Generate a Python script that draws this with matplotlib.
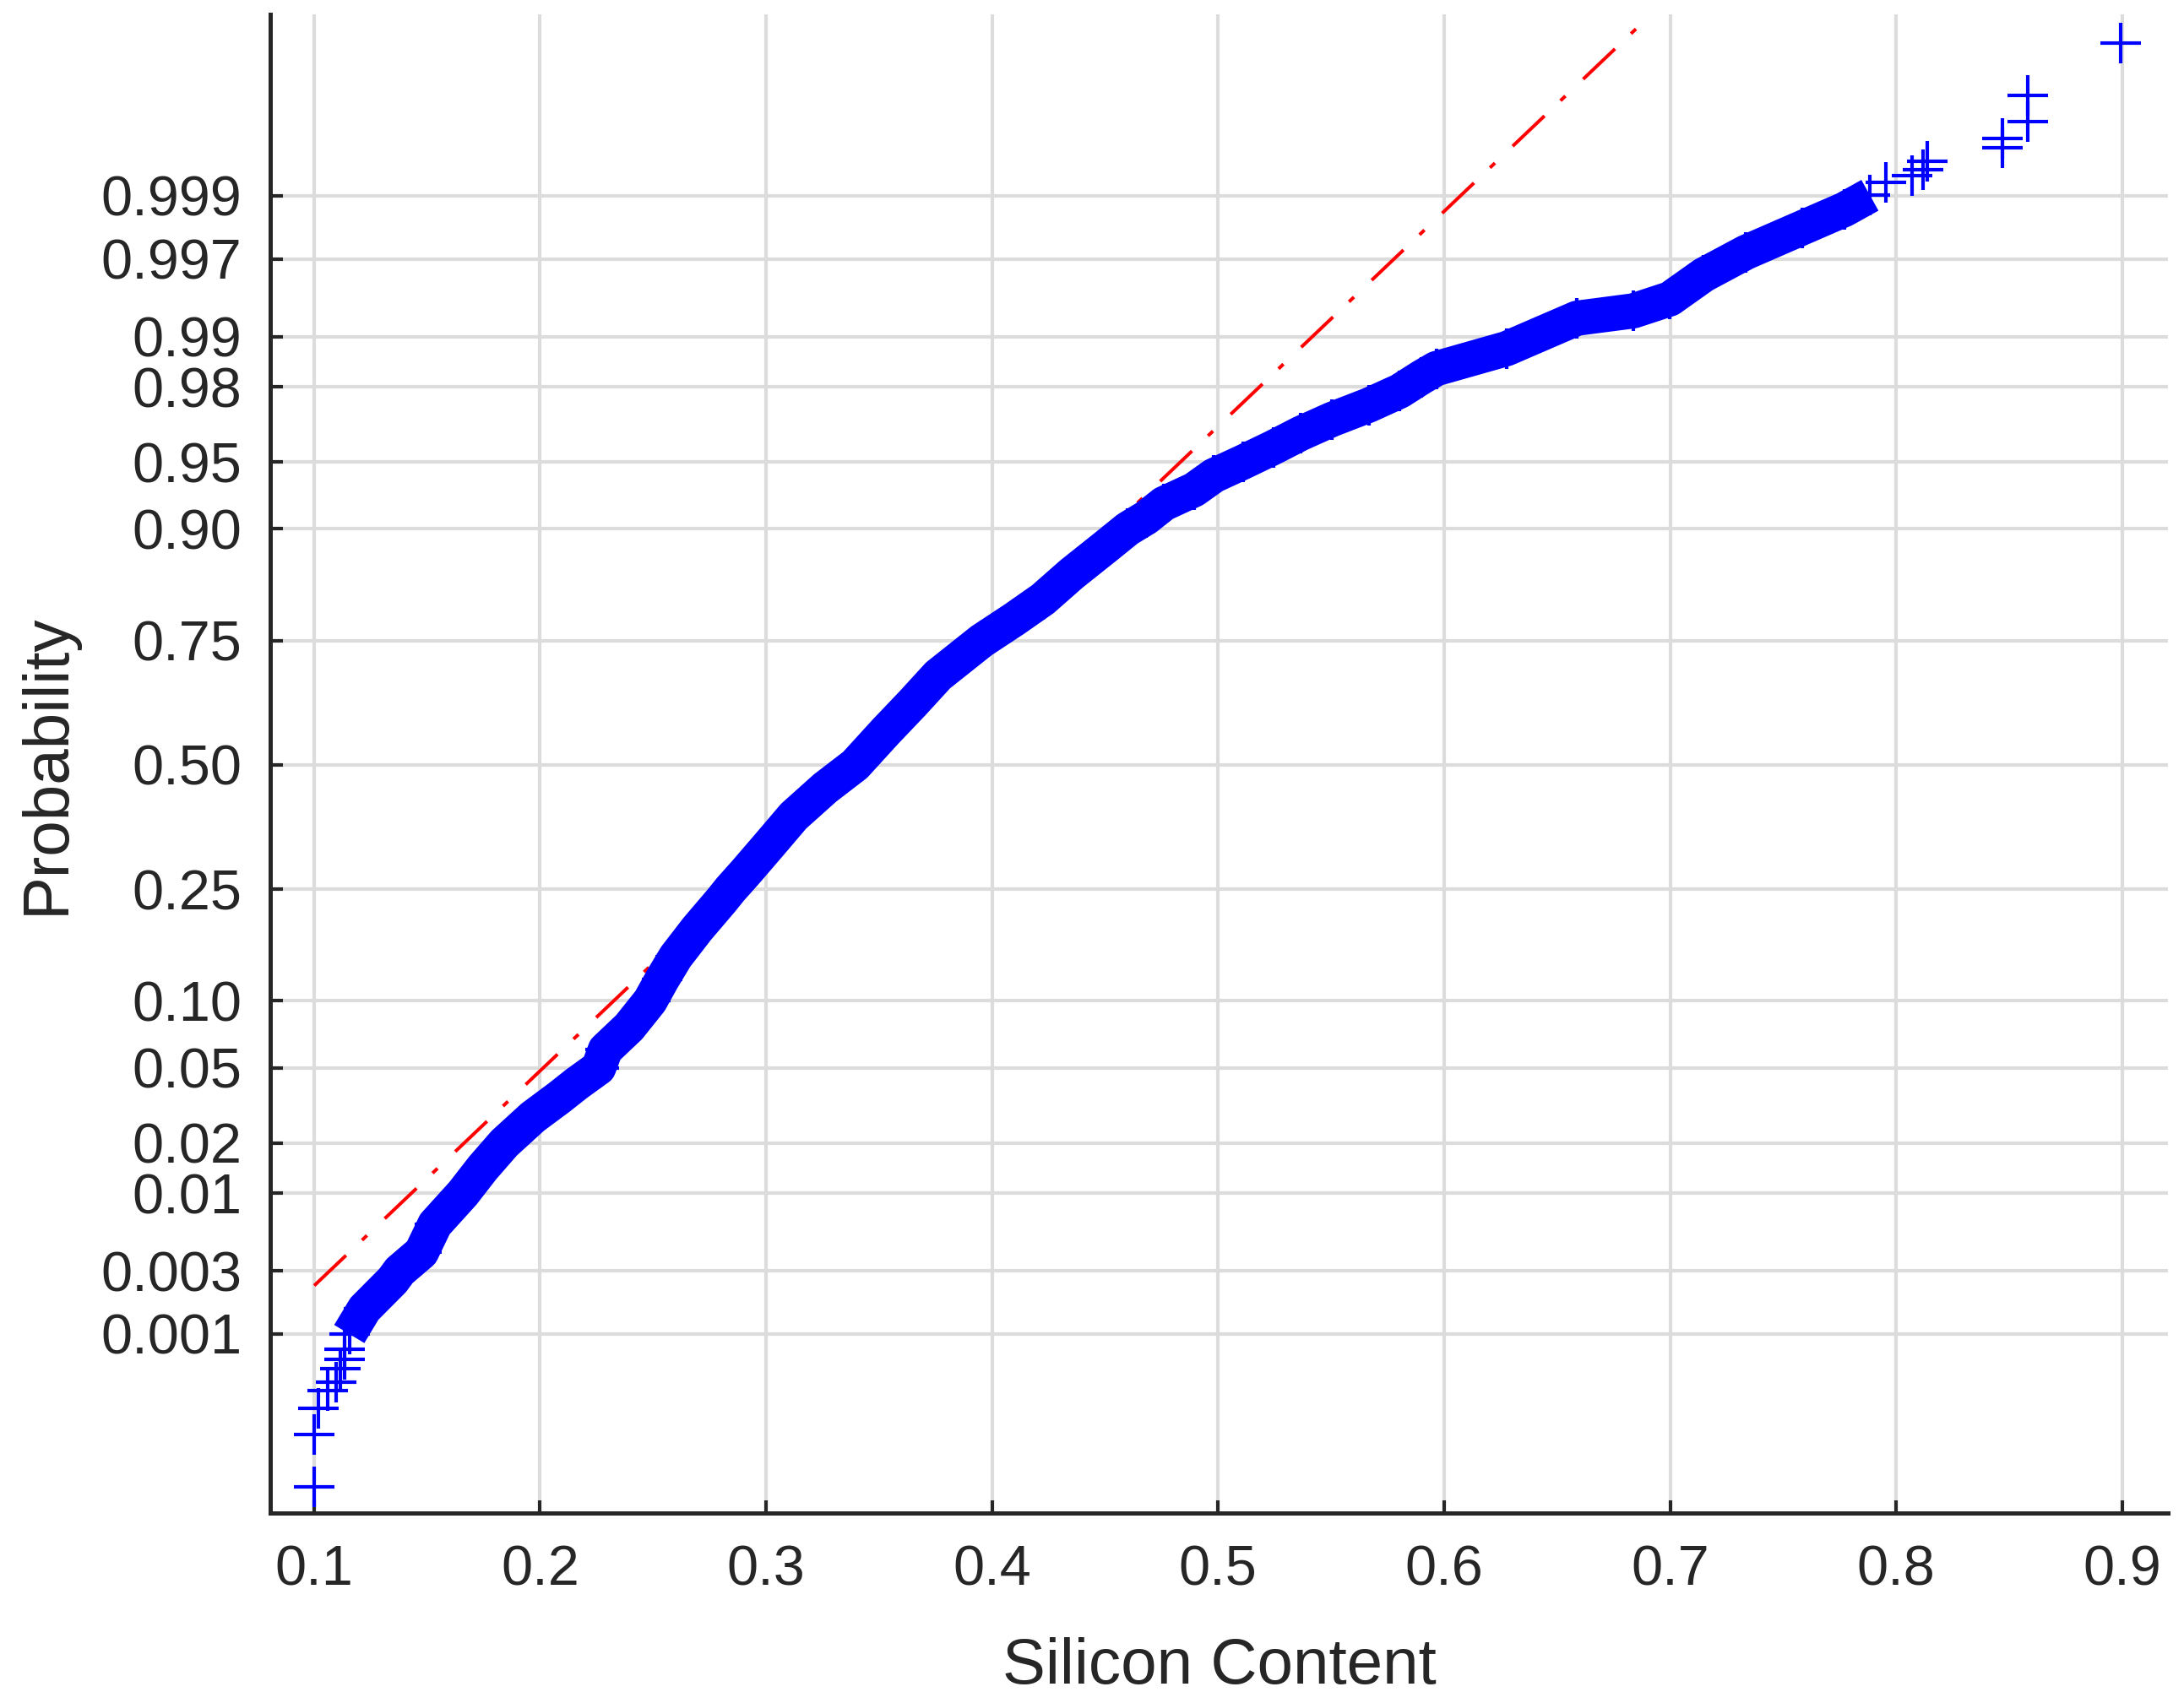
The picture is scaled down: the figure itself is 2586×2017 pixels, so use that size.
"""
Normal probability plot of silicon content (MATLAB normplot look-alike).
"""

import numpy as np
import matplotlib
matplotlib.use('Agg')
import matplotlib.pyplot as plt
from statistics import NormalDist

# ============================================================================
# DATA
# ============================================================================

# sparse lowest observations: silicon content and plotting probability
low_tail_x = [0.1001, 0.1001, 0.1020, 0.1059, 0.1098, 0.1117, 0.1136, 0.1136]
low_tail_p = [4.4e-5, 1.38e-4, 2.4e-4, 3.4e-4, 4.0e-4, 5.2e-4, 6.2e-4, 7.6e-4]

# dense body of the sample (centre of the band of markers)
body_x = [0.1156, 0.1223, 0.1348, 0.1379, 0.1475, 0.1535, 0.1659, 0.1746,
          0.1842, 0.1968, 0.2084, 0.2163, 0.2259, 0.2289, 0.2394, 0.2487,
          0.2540, 0.2600, 0.2696, 0.2802, 0.2843, 0.2909, 0.3016, 0.3122,
          0.3261, 0.3394, 0.3528, 0.3647, 0.3761, 0.3954, 0.4099, 0.4225,
          0.4351, 0.4507, 0.4600, 0.4681, 0.4760, 0.4894, 0.4981, 0.5111,
          0.5244, 0.5366, 0.5504, 0.5666, 0.5803, 0.5901, 0.5965, 0.6276,
          0.6588, 0.6837, 0.6999, 0.7148, 0.7335, 0.7584, 0.7771, 0.7884]
body_p = [0.0010, 0.00157, 0.00256, 0.0030, 0.00406, 0.00631, 0.0100, 0.0143,
          0.0200, 0.0279, 0.0354, 0.0418, 0.0500, 0.0610, 0.0772, 0.1000,
          0.1221, 0.1487, 0.1869, 0.2306, 0.2500, 0.2797, 0.3332, 0.3904,
          0.4501, 0.5000, 0.5715, 0.6306, 0.6866, 0.7500, 0.7858, 0.8160,
          0.8500, 0.8828, 0.9000, 0.9102, 0.9220, 0.9325, 0.9419, 0.9500,
          0.9576, 0.9641, 0.9697, 0.9746, 0.9788, 0.9824, 0.9843, 0.9881,
          0.99236, 0.99316, 0.99431, 0.9961, 0.99731, 0.99823, 0.99872, 0.99901]

# sparse highest observations
high_tail_x = [0.7953, 0.8070, 0.8118, 0.8137, 0.8469, 0.8469, 0.8581, 0.8581, 0.8995]
high_tail_p = [0.999222, 0.999313, 0.999386, 0.99948, 0.99960, 0.999664,
               0.999762, 0.999862, 0.999956]

# reference line passes through the first and third quartiles
ref_q25 = 0.2846
ref_q75 = 0.4002

prob_ticks = [0.001, 0.003, 0.01, 0.02, 0.05, 0.10, 0.25, 0.50,
              0.75, 0.90, 0.95, 0.98, 0.99, 0.997, 0.999]
prob_labels = ['0.001', '0.003', '0.01', '0.02', '0.05', '0.10', '0.25', '0.50',
               '0.75', '0.90', '0.95', '0.98', '0.99', '0.997', '0.999']
x_ticks = [0.1, 0.2, 0.3, 0.4, 0.5, 0.6, 0.7, 0.8, 0.9]
x_labels = ['0.1', '0.2', '0.3', '0.4', '0.5', '0.6', '0.7', '0.8', '0.9']

# ============================================================================
# NORMAL PROBABILITY SCALE
# ============================================================================

STD = NormalDist()


def _inv(p):
    if not np.isfinite(p):
        return np.nan
    return STD.inv_cdf(min(max(p, 1e-15), 1 - 1e-15))


def _cdf(z):
    if not np.isfinite(z):
        return np.nan
    return STD.cdf(z)


prob_to_z = np.vectorize(_inv, otypes=[float])
z_to_prob = np.vectorize(_cdf, otypes=[float])

# ============================================================================
# PLOT
# ============================================================================

plt.rcParams['font.family'] = ['Liberation Sans', 'DejaVu Sans']
INK = '#262626'
BLUE = '#0000FF'

fig = plt.figure(figsize=(25.86, 20.17), dpi=100)
ax = fig.add_axes([0.1237, 0.1116, 0.8690, 0.8800])
ax.set_yscale('function', functions=(prob_to_z, z_to_prob))

# red dash-dot reference line across the data range (under the markers)
mu = (ref_q25 + ref_q75) / 2
sigma = (ref_q75 - ref_q25) / (2 * STD.inv_cdf(0.75))
x_all = low_tail_x + body_x + high_tail_x
ref_x = np.array([min(x_all), max(x_all)])
ref_p = z_to_prob((ref_x - mu) / sigma)
ax.plot(ref_x, ref_p, color='#FF0000', lw=2.9,
        linestyle=(0, (12.9, 6.5, 2.0, 7.2)), dash_capstyle='butt', zorder=2.5)

# dense band: thick stroke plus the '+' markers
ax.plot(body_x, body_p, color=BLUE, lw=30, solid_joinstyle='round',
        solid_capstyle='butt', zorder=3)
ax.plot(body_x, body_p, ls='none', marker='+', ms=34, mew=3, color=BLUE, zorder=3)
ax.plot(low_tail_x, low_tail_p, ls='none', marker='+', ms=34, mew=3,
        color=BLUE, zorder=3)
ax.plot(high_tail_x, high_tail_p, ls='none', marker='+', ms=34, mew=3,
        color=BLUE, zorder=3)

ax.set_xlim(0.0806, 0.9203)
ax.set_ylim(STD.cdf(-4.062), STD.cdf(4.076))

ax.set_xticks(x_ticks)
ax.set_xticklabels(x_labels)
ax.set_yticks(prob_ticks)
ax.set_yticklabels(prob_labels)
ax.minorticks_off()

ax.grid(True, color='#DCDCDC', lw=3)
ax.set_axisbelow(True)

for side in ['top', 'right']:
    ax.spines[side].set_visible(False)
for side in ['left', 'bottom']:
    ax.spines[side].set_linewidth(3.6)
    ax.spines[side].set_color(INK)

ax.tick_params(axis='both', direction='in', length=11, width=3, colors=INK,
               labelsize=48)
ax.tick_params(axis='x', pad=27)
ax.tick_params(axis='y', pad=24)

ax.set_xlabel('Silicon Content', fontsize=55, color=INK, labelpad=34)
ax.set_ylabel('Probability', fontsize=55, color=INK, labelpad=20)

fig.savefig('out.png', dpi=100)
